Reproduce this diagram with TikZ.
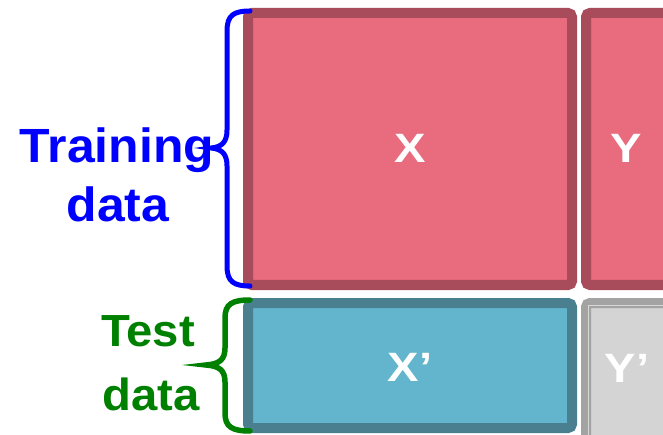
\documentclass[tikz,border=0pt]{standalone}
\usepackage{fontspec}
\setmainfont{Liberation Sans}
\definecolor{trainfill}{HTML}{E86B7E}
\definecolor{trainedge}{HTML}{A84B5B}
\definecolor{testfill}{HTML}{62B5CD}
\definecolor{testedge}{HTML}{4A7F8F}
\definecolor{grayfill}{HTML}{D4D4D4}
\definecolor{grayedge}{HTML}{A3A3A3}
\definecolor{grayline}{HTML}{D8D8D8}
\definecolor{bracegreen}{HTML}{008000}
\begin{document}
\begin{tikzpicture}[x=1pt,y=-1pt,
  trainbox/.style={fill=trainfill, draw=trainedge, line width=10pt, rounded corners=4pt},
  testbox/.style={fill=testfill, draw=testedge, line width=10pt, rounded corners=4pt},
  graybox/.style={fill=grayfill, draw=grayedge, line width=10pt, rounded corners=4pt},
  grayinner/.style={draw=grayline, line width=1.2pt},
  boxlbl/.style={text=white, font=\bfseries\fontsize{41}{44}\selectfont, anchor=base, inner sep=0pt, xscale=1.15},
  trainlbl/.style={text=blue, font=\bfseries\fontsize{48}{50}\selectfont, anchor=base, inner sep=0pt, xscale=1.04},
  testlbl/.style={text=bracegreen, font=\bfseries\fontsize{45}{48}\selectfont, anchor=base, inner sep=0pt, xscale=1.05},
  bluebrace/.style={draw=blue, line width=5pt, line cap=round},
  greenbrace/.style={draw=bracegreen, line width=5.5pt, line cap=round}]
\useasboundingbox (0,0) rectangle (663,435);
\clip (0,0) rectangle (663,435);
% boxes
\draw[trainbox] (248,13) rectangle (572,285);
\draw[trainbox] (586,13) rectangle (720,285);
\draw[testbox] (248,303) rectangle (572,428);
\draw[graybox] (586,303) rectangle (720,470);
\draw[grayinner] (588.5,305.5) rectangle (720,470);
% box labels
\node[boxlbl] (X) at (410,163) {X};
\node[boxlbl] (Y) at (626,163) {Y};
\node[boxlbl] (Xp) at (410,381) {X’};
\node[boxlbl] (Yp) at (627,382) {Y’};
% side labels
\node[trainlbl] (train1) at (117,163) {Training};
\node[trainlbl] (train2) at (118,222) {data};
\node[testlbl] (test1) at (148,346) {Test};
\node[testlbl] (test2) at (151,410) {data};
% braces
\coordinate (bt) at (250,11);
\coordinate (bb) at (250,286);
\coordinate (gt) at (250,300);
\coordinate (gb) at (250,431);
\draw[bluebrace] (bt) .. controls (234,11) and (227,15) .. (227,31) -- (227,130)
  .. controls (227,142) and (222,147) .. (211,148)
  .. controls (222,149) and (227,154) .. (227,166) -- (227,266)
  .. controls (227,282) and (234,286) .. (bb);
\draw[greenbrace] (gt) .. controls (232,300) and (225,304) .. (225,318) -- (225,348)
  .. controls (225,360) and (219,364) .. (206,365)
  .. controls (219,366) and (225,370) .. (225,382) -- (225,413)
  .. controls (225,427) and (232,431) .. (gb);
\end{tikzpicture}
\end{document}
